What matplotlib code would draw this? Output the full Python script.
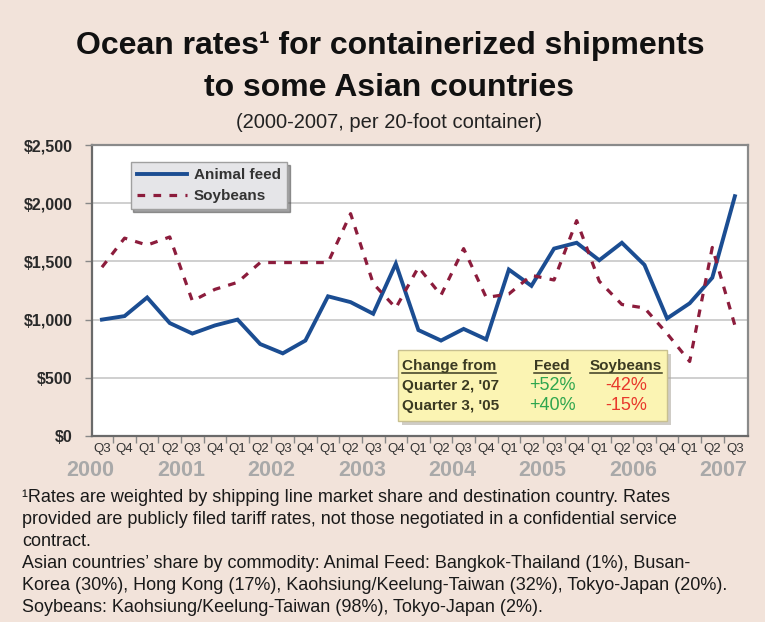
import numpy as np
import matplotlib
matplotlib.use("Agg")
import matplotlib.pyplot as plt
from matplotlib.patches import Rectangle
from matplotlib.lines import Line2D

# quarters Q3 2000 .. Q3 2007
quarters = ["Q3", "Q4"] + ["Q1", "Q2", "Q3", "Q4"] * 6 + ["Q1", "Q2", "Q3"]
years = ["2000", "2001", "2002", "2003", "2004", "2005", "2006", "2007"]
year_pos = [-0.5, 3.5, 7.5, 11.5, 15.5, 19.5, 23.5, 27.5]

animal_feed = [1000, 1030, 1190, 970, 880, 950, 1000, 790, 710, 820,
               1200, 1150, 1050, 1480, 910, 820, 920, 830, 1430, 1290,
               1610, 1660, 1510, 1660, 1470, 1010, 1140, 1360, 2060]
soybeans = [1450, 1700, 1640, 1710, 1160, 1260, 1320, 1490, 1490, 1490,
            1490, 1910, 1310, 1100, 1450, 1210, 1610, 1190, 1220, 1380,
            1340, 1850, 1330, 1130, 1100, 880, 640, 1620, 950]

yticks = [0, 500, 1000, 1500, 2000, 2500]
ytick_labels = ["$0", "$500", "$1,000", "$1,500", "$2,000", "$2,500"]

change_rows = ["Quarter 2, '07", "Quarter 3, '05"]
feed_change = ["+52%", "+40%"]
soy_change = ["-42%", "-15%"]

W, H = 765, 622
bg = "#f2e3da"
sans = ["Liberation Sans", "DejaVu Sans"]


def fx(x):
    return x / W


def fy(y):
    return 1 - y / H


fig = plt.figure(figsize=(W / 100, H / 100), dpi=100, facecolor=bg)
ax = fig.add_axes([fx(92), fy(436), 656 / W, 291 / H])
ax.set_facecolor("white")

x = np.arange(len(quarters))
ax.plot(x, animal_feed, color="#1b4d92", lw=2.8, label="Animal feed",
        solid_joinstyle="miter", zorder=3)
ax.plot(x, soybeans, color="#8c1c3c", lw=2.3, ls=(0, (2.4, 2.6)),
        label="Soybeans", zorder=3)

ax.set_xlim(-0.44, 28.58)
ax.set_ylim(0, 2500)
ax.set_yticks(yticks)
ax.set_yticklabels(ytick_labels, family=sans, fontweight="bold",
                   fontsize=11.5, color="#2a2a2a")
ax.yaxis.grid(True, color="#cfcfcf", lw=1.4)
ax.set_axisbelow(True)
ax.tick_params(axis="y", length=5, width=1, color="#888888", pad=9)

ax.set_xticks(x)
ax.set_xticklabels(quarters, family=sans, fontsize=9.5, color="#333333")
ax.set_xticks(x[:-1] + 0.5, minor=True)
ax.tick_params(axis="x", which="major", length=0, pad=5)
ax.tick_params(axis="x", which="minor", length=5, width=1, color="#888888")

for s in ax.spines.values():
    s.set_color("#8a8a8a")
    s.set_linewidth(1.6)
ax.spines["left"].set_color("#6a6a6a")
ax.spines["bottom"].set_color("#6a6a6a")

for yr, p in zip(years, year_pos):
    ax.text(p, -0.117, yr, transform=ax.get_xaxis_transform(), ha="center",
            va="center", fontsize=15.5, color="#a9a9a9", family=sans,
            fontweight="bold", clip_on=False)

leg = ax.legend(loc="upper left", bbox_to_anchor=(0.059, 0.942),
                frameon=True, fancybox=False, shadow=True, handlelength=3.3,
                borderpad=0.4, labelspacing=0.45, handletextpad=0.45,
                borderaxespad=0,
                prop={"family": sans, "weight": "bold", "size": 11})
leg.get_frame().set_facecolor("#e5e5e8")
leg.get_frame().set_edgecolor("#a0a0a0")
for t in leg.get_texts():
    t.set_color("#333333")

# titles
fig.text(fx(390), fy(46), "Ocean rates¹ for containerized shipments",
         ha="center", va="center", fontsize=23, fontweight="bold",
         family=sans, color="#111111")
fig.text(fx(389), fy(88), "to some Asian countries", ha="center",
         va="center", fontsize=23, fontweight="bold", family=sans,
         color="#111111")
fig.text(fx(389), fy(122), "(2000-2007, per 20-foot container)",
         ha="center", va="center", fontsize=14.5, family=sans,
         color="#222222")

# change table box
box_l, box_t, box_r, box_b = 398, 350, 667, 421
fig.patches.append(Rectangle((fx(box_l + 4), fy(box_b + 4)),
                             (box_r - box_l) / W, (box_b - box_t) / H,
                             transform=fig.transFigure, facecolor="#b0aaa0",
                             edgecolor="none", alpha=0.6, zorder=4))
fig.patches.append(Rectangle((fx(box_l), fy(box_b)),
                             (box_r - box_l) / W, (box_b - box_t) / H,
                             transform=fig.transFigure, facecolor="#fbf4b3",
                             edgecolor="#c8c090", lw=1, zorder=5))

dark = "#3b3a22"
hdr = []
hdr.append(fig.text(fx(402), fy(366), "Change from", ha="left", va="center",
                    fontsize=11, fontweight="bold", family=sans,
                    color=dark, zorder=6))
hdr.append(fig.text(fx(552), fy(366), "Feed", ha="center", va="center",
                    fontsize=11, fontweight="bold", family=sans,
                    color=dark, zorder=6))
hdr.append(fig.text(fx(626), fy(366), "Soybeans", ha="center", va="center",
                    fontsize=11, fontweight="bold", family=sans,
                    color=dark, zorder=6))
for i, (r, f, s) in enumerate(zip(change_rows, feed_change, soy_change)):
    yy = 386 + i * 20
    fig.text(fx(402), fy(yy), r, ha="left", va="center", fontsize=11,
             fontweight="bold", family=sans, color=dark, zorder=6)
    fig.text(fx(552), fy(yy), f, ha="center", va="center", fontsize=13,
             family=sans, color="#2fa64e", zorder=6)
    fig.text(fx(626), fy(yy), s, ha="center", va="center", fontsize=13,
             family=sans, color="#e8382b", zorder=6)

# underline the header words
fig.canvas.draw()
rend = fig.canvas.get_renderer()
for t in hdr:
    bb = t.get_window_extent(rend)
    yl = (bb.y0 + 0.5) / H
    fig.lines.append(Line2D([bb.x0 / W, bb.x1 / W], [yl, yl],
                            transform=fig.transFigure, color=dark, lw=1.1,
                            zorder=6))

# footnotes
notes = [
    "¹Rates are weighted by shipping line market share and destination country. Rates",
    "provided are publicly filed tariff rates, not those negotiated in a confidential service",
    "contract.",
    "Asian countries\u2019 share by commodity: Animal Feed: Bangkok-Thailand (1%), Busan-",
    "Korea (30%), Hong Kong (17%), Kaohsiung/Keelung-Taiwan (32%), Tokyo-Japan (20%).",
    "Soybeans: Kaohsiung/Keelung-Taiwan (98%), Tokyo-Japan (2%).",
]
for i, line in enumerate(notes):
    fig.text(fx(22), fy(498 + i * 21.8), line, ha="left", va="center",
             fontsize=13, family=sans, color="#1a1a1a")

fig.savefig("out.png", dpi=100, facecolor=bg)
